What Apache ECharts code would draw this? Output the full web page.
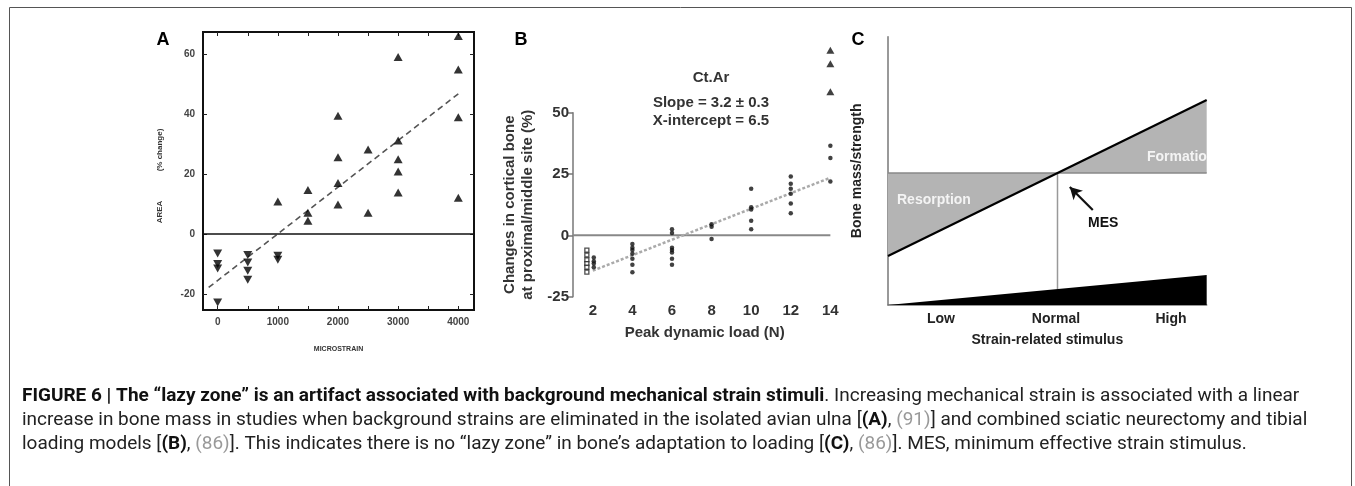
<!DOCTYPE html>
<html><head><meta charset="utf-8">
<script src="https://cdn.jsdelivr.net/npm/echarts@6/dist/echarts.min.js"></script>
<style>html,body{margin:0;padding:0;background:#fff}#c{width:1355px;height:486px}</style>
</head><body><div id="c"></div>
<script>
// ---------- Panel A (isolated avian ulna) ----------
const aUpX   = [1000,1500,1500,1500,2000,2000,2000,2000,2500,2500,3000,3000,3000,3000,3000,4000,4000,4000,4000];
const aUpY   = [10.8,14.7,7.1,4.4,39.4,25.6,17,9.8,28.2,7.1,59,31.2,24.9,20.8,13.8,66,54.8,38.9,12.1];
const aDownX = [0,0,0,0,500,500,500,500,1000,1000];
const aDownY = [-6.5,-10,-11.5,-22.8,-7,-9.5,-12.2,-15.2,-7.2,-8.6];
const aFitX  = [-150,4000];
const aFitY  = [-17.8,46.7];
const aXTicks = [0,1000,2000,3000,4000];
const aXMinor = [0,500,1000,1500,2000,2500,3000,3500,4000];
const aYTicks = [-20,0,20,40,60];

// ---------- Panel B (Ct.Ar vs peak dynamic load) ----------
const bCrossX = [1.7,1.7,1.7,1.7,1.7,1.7];
const bCrossY = [-6,-8,-10,-11.5,-13,-15];
const bDotX = [2.05,2.05,2.05,2.05, 4,4,4,4,4,4,4, 6,6,6,6,6,6,6, 8,8,8, 10,10,10,10,10, 12,12,12,12,12,12, 14,14,14];
const bDotY = [-9,-10.5,-11.5,-13, -3.5,-5,-6,-7.5,-9.5,-12,-15, 2.5,1,-5,-6,-7,-9.5,-12, 4.5,3.5,-1.5, 19,11.5,10.5,6,2.5, 24,21,19,17,13,9, 36.5,31.5,22];
const bTriX = [14,14,14];
const bTriY = [75.5,70,58.5];
const bFitX = [2,14];
const bFitY = [-14.4,23.5];
const bXTicks = [2,4,6,8,10,12,14];
const bYTicks = [-25,0,25,50];

// ---------- Panel C (mechanostat schematic) ----------
const cLabels = ['Low','Normal','High'];
const cLabelPos = [1,2,3];
const cRangeX = [0.54,3.31];
const cLevel = 49.2;              // bone mass at normal stimulus
const cFitY = [18.3,76.4];        // bone mass line at the two ends
const cWedgeY = [0,11.2];         // stimulus wedge height at the two ends
const cArrowFrom = [2.32,35.4];
const cArrowTo = [2.12,44.0];

const pairs = (xs, ys) => xs.map((x,i)=>[x, ys[i]]);

const cCrossX = cRangeX[0] + (cLevel - cFitY[0])/(cFitY[1]-cFitY[0])*(cRangeX[1]-cRangeX[0]);
const cWedgeAt = x => cWedgeY[0] + (x - cRangeX[0])/(cRangeX[1]-cRangeX[0])*(cWedgeY[1]-cWedgeY[0]);

const chart = echarts.init(document.getElementById('c'), null, {renderer:'canvas'});
const aFont = {fontFamily:'Liberation Sans', fontWeight:'bold', fontSize:10, color:'#444'};
const bFont = {fontFamily:'Liberation Sans', fontWeight:'bold', fontSize:15, color:'#333'};

const cShapes = {
  type:'custom', xAxisIndex:4, yAxisIndex:4, silent:true, z:1,
  data:[[0]],
  renderItem:(p, api)=>{
    const P = (x,y)=>api.coord([x,y]);
    const L = (a,b,st)=>({type:'line', shape:{x1:a[0],y1:a[1],x2:b[0],y2:b[1]}, style:st});
    return {type:'group', children:[
      {type:'polygon', shape:{points:[P(cRangeX[0],cLevel),P(cCrossX,cLevel),P(cRangeX[0],cFitY[0])]}, style:{fill:'#b4b4b4'}},
      {type:'polygon', shape:{points:[P(cCrossX,cLevel),P(cRangeX[1],cLevel),P(cRangeX[1],cFitY[1])]}, style:{fill:'#b4b4b4'}},
      {type:'polygon', shape:{points:[P(cRangeX[0],cWedgeY[0]),P(cRangeX[1],0),P(cRangeX[1],cWedgeY[1])]}, style:{fill:'#000'}},
      L(P(cRangeX[0],cLevel), P(cRangeX[1],cLevel), {stroke:'#888',lineWidth:1.5}),
      L(P(cCrossX,cLevel), P(cCrossX,cWedgeAt(cCrossX)), {stroke:'#999',lineWidth:1.5}),
      L(P(cRangeX[0],cFitY[0]), P(cRangeX[1],cFitY[1]), {stroke:'#000',lineWidth:2.2})
    ]};
  }
};

const capRich = {
  b:{font:'bold 18px Roboto', fill:'#111'},
  n:{font:'18px Roboto', fill:'#222'},
  r:{font:'18px Roboto', fill:'#999'}
};

const option = {
  animation:false,
  backgroundColor:'#fff',
  grid:[
    {left:203, top:32, width:271, height:278, show:true, borderColor:'#111', borderWidth:2, backgroundColor:'transparent'},
    {left:573, top:112.7, width:263.3, height:184},
    {left:888, top:36.7, width:318.7, height:268.3},
    {left:203, top:32, width:271, height:278}
  ],
  xAxis:[
    {gridIndex:0, type:'value', min:-244, max:4261, splitLine:{show:false},
     axisLine:{show:false, onZero:false}, axisTick:{show:true, inside:true, length:4, customValues:aXMinor, lineStyle:{color:'#222'}},
     axisLabel:Object.assign({customValues:aXTicks, margin:7, formatter:v=>String(v)}, aFont),
     name:'MICROSTRAIN', nameLocation:'middle', nameGap:36, nameTextStyle:{fontFamily:'Liberation Sans', fontWeight:'bold', fontSize:7, color:'#333'}},
    {gridIndex:1, type:'value', min:1, max:14.3, splitLine:{show:false}, axisLine:{show:false, onZero:false}, axisTick:{show:false},
     axisLabel:Object.assign({customValues:bXTicks, margin:7}, bFont),
     name:'Peak dynamic load (N)', nameLocation:'middle', nameGap:29, nameTextStyle:{fontFamily:'Liberation Sans', fontWeight:'bold', fontSize:15, color:'#333'}},
    {gridIndex:2, type:'value', min:cRangeX[0], max:cRangeX[1], splitLine:{show:false},
     axisLine:{show:true, onZero:false, lineStyle:{color:'#777', width:1.5}}, axisTick:{show:false},
     axisLabel:{customValues:cLabelPos, formatter:v=>cLabels[cLabelPos.indexOf(v)] || '', margin:7, fontFamily:'Liberation Sans', fontWeight:'bold', fontSize:14, color:'#222'},
     name:'Strain-related stimulus', nameLocation:'middle', nameGap:28, nameTextStyle:{fontFamily:'Liberation Sans', fontWeight:'bold', fontSize:14, color:'#222'}},
    {gridIndex:3, type:'value', position:'top', min:-244, max:4261, splitLine:{show:false}, axisLine:{show:false, onZero:false},
     axisTick:{show:true, inside:true, length:4, customValues:aXMinor, lineStyle:{color:'#222'}}, axisLabel:{show:false}},
    {gridIndex:2, type:'value', min:cRangeX[0], max:cRangeX[1], show:false}
  ],
  yAxis:[
    {gridIndex:0, type:'value', min:-25.3, max:67.3, splitLine:{show:false}, axisLine:{show:false, onZero:false},
     axisTick:{show:true, inside:true, length:4, customValues:aYTicks, lineStyle:{color:'#222'}},
     axisLabel:Object.assign({customValues:aYTicks, margin:8}, aFont)},
    {gridIndex:1, type:'value', min:-25, max:50, splitLine:{show:false},
     axisLine:{show:true, onZero:false, lineStyle:{color:'#777', width:1.5}},
     axisTick:{show:true, length:5, customValues:bYTicks, lineStyle:{color:'#777', width:1.5}},
     axisLabel:Object.assign({customValues:bYTicks, margin:4}, bFont),
     name:'Changes in cortical bone\nat proximal/middle site (%)', nameLocation:'middle', nameRotate:90, nameGap:36,
     nameTextStyle:{fontFamily:'Liberation Sans', fontWeight:'bold', fontSize:15, color:'#333', lineHeight:18}},
    {gridIndex:2, type:'value', min:0, max:100, splitLine:{show:false},
     axisLine:{show:true, onZero:false, lineStyle:{color:'#777', width:1.5}}, axisTick:{show:false}, axisLabel:{show:false},
     name:'Bone mass/strength', nameLocation:'middle', nameRotate:90, nameGap:24,
     nameTextStyle:{fontFamily:'Liberation Sans', fontWeight:'bold', fontSize:14, color:'#222'}},
    {gridIndex:3, type:'value', position:'right', min:-25.3, max:67.3, splitLine:{show:false}, axisLine:{show:false, onZero:false},
     axisTick:{show:true, inside:true, length:4, customValues:aYTicks, lineStyle:{color:'#222'}}, axisLabel:{show:false}},
    {gridIndex:2, type:'value', min:0, max:100, show:false}
  ],
  series:[
    {type:'line', xAxisIndex:0, yAxisIndex:0, data:pairs(aFitX,aFitY), symbol:'none',
     lineStyle:{color:'#555', width:1.6, type:[6,4]}, z:2,
     markLine:{silent:true, symbol:'none', label:{show:false}, lineStyle:{color:'#111', width:1.6, type:'solid'}, data:[{yAxis:0}]}},
    {type:'scatter', xAxisIndex:0, yAxisIndex:0, data:pairs(aUpX,aUpY), symbol:'triangle', symbolSize:[9,8], itemStyle:{color:'#000'}, z:3},
    {type:'scatter', xAxisIndex:0, yAxisIndex:0, data:pairs(aDownX,aDownY), symbol:'triangle', symbolRotate:180, symbolSize:[9,8], itemStyle:{color:'#000'}, z:3},

    {type:'line', xAxisIndex:1, yAxisIndex:1, data:pairs([1,14],[0,0]), symbol:'none', lineStyle:{color:'#888', width:2}, z:1},
    {type:'line', xAxisIndex:1, yAxisIndex:1, data:pairs(bFitX,bFitY), symbol:'none', lineStyle:{color:'#aaa', width:2.5, type:[3,2]}, z:2},
    {type:'scatter', xAxisIndex:1, yAxisIndex:1, data:pairs(bDotX,bDotY), symbol:'circle', symbolSize:4.5, itemStyle:{color:'#111'}, z:3, clip:false},
    {type:'scatter', xAxisIndex:1, yAxisIndex:1, data:pairs(bCrossX,bCrossY), symbol:'rect', symbolSize:4, itemStyle:{color:'#fff', borderColor:'#222', borderWidth:1.3}, z:3, clip:false},
    {type:'scatter', xAxisIndex:1, yAxisIndex:1, data:pairs(bTriX,bTriY), symbol:'triangle', symbolSize:[8,7], itemStyle:{color:'#111'}, z:3, clip:false},

    cShapes,
    {type:'line', xAxisIndex:4, yAxisIndex:4, data:[], symbol:'none',
     markLine:{silent:true, symbol:['none','arrow'], symbolSize:[10,12], label:{show:false},
       lineStyle:{color:'#111', width:2.2, type:'solid'},
       data:[[{coord:cArrowFrom},{coord:cArrowTo}]]}}
  ],
  graphic:[
    {type:'rect', shape:{x:9.5, y:7.5, width:1342, height:500}, style:{fill:'none', stroke:'#555', lineWidth:1}, z:-1},
    {type:'text', x:163, y:40, style:{text:'A', font:'bold 18px "Liberation Sans"', fill:'#000', align:'center', verticalAlign:'middle'}},
    {type:'text', x:521, y:40, style:{text:'B', font:'bold 18px "Liberation Sans"', fill:'#000', align:'center', verticalAlign:'middle'}},
    {type:'text', x:858, y:40, style:{text:'C', font:'bold 18px "Liberation Sans"', fill:'#000', align:'center', verticalAlign:'middle'}},
    {type:'text', x:160, y:212, rotation:Math.PI/2, style:{text:'AREA', font:'bold 8px "Liberation Sans"', fill:'#333', align:'center', verticalAlign:'middle'}},
    {type:'text', x:160, y:150, rotation:Math.PI/2, style:{text:'(% change)', font:'bold 8px "Liberation Sans"', fill:'#333', align:'center', verticalAlign:'middle'}},
    {type:'text', x:711, y:78, style:{text:'Ct.Ar', font:'bold 15px "Liberation Sans"', fill:'#333', align:'center', verticalAlign:'middle'}},
    {type:'text', x:711, y:103, style:{text:'Slope = 3.2 \u00b1 0.3', font:'bold 15px "Liberation Sans"', fill:'#333', align:'center', verticalAlign:'middle'}},
    {type:'text', x:711, y:121, style:{text:'X-intercept = 6.5', font:'bold 15px "Liberation Sans"', fill:'#333', align:'center', verticalAlign:'middle'}},
    {type:'text', x:897, y:200, style:{text:'Resorption', font:'bold 14px "Liberation Sans"', fill:'#f4f4f4', align:'left', verticalAlign:'middle'}, z:10},
    {type:'text', x:1147, y:157, style:{text:'Formation', font:'bold 14px "Liberation Sans"', fill:'#f4f4f4', align:'left', verticalAlign:'middle'}, z:10},
    {type:'rect', shape:{x:1208, y:140, width:60, height:30}, style:{fill:'#fff'}, z:11},
    {type:'text', x:1088, y:223, style:{text:'MES', font:'bold 14px "Liberation Sans"', fill:'#111', align:'left', verticalAlign:'middle'}, z:10},
    {type:'text', x:22, y:396, scaleX:1.055, style:{
      text:'{b|FIGURE 6 | The \u201clazy zone\u201d is an artifact associated with background mechanical strain stimuli}{n|. Increasing mechanical strain is associated with a linear}',
      verticalAlign:'middle', rich:capRich}},
    {type:'text', x:22, y:420, scaleX:1.055, style:{
      text:'{n|increase in bone mass in studies when background strains are eliminated in the isolated avian ulna [}{b|(A)}{n|, }{r|(91)}{n|] and combined sciatic neurectomy and tibial}',
      verticalAlign:'middle', rich:capRich}},
    {type:'text', x:22, y:444, scaleX:1.055, style:{
      text:'{n|loading models [}{b|(B)}{n|, }{r|(86)}{n|]. This indicates there is no \u201clazy zone\u201d in bone\u2019s adaptation to loading [}{b|(C)}{n|, }{r|(86)}{n|]. MES, minimum effective strain stimulus.}',
      verticalAlign:'middle', rich:capRich}}
  ]
};
chart.setOption(option);
</script></body></html>
